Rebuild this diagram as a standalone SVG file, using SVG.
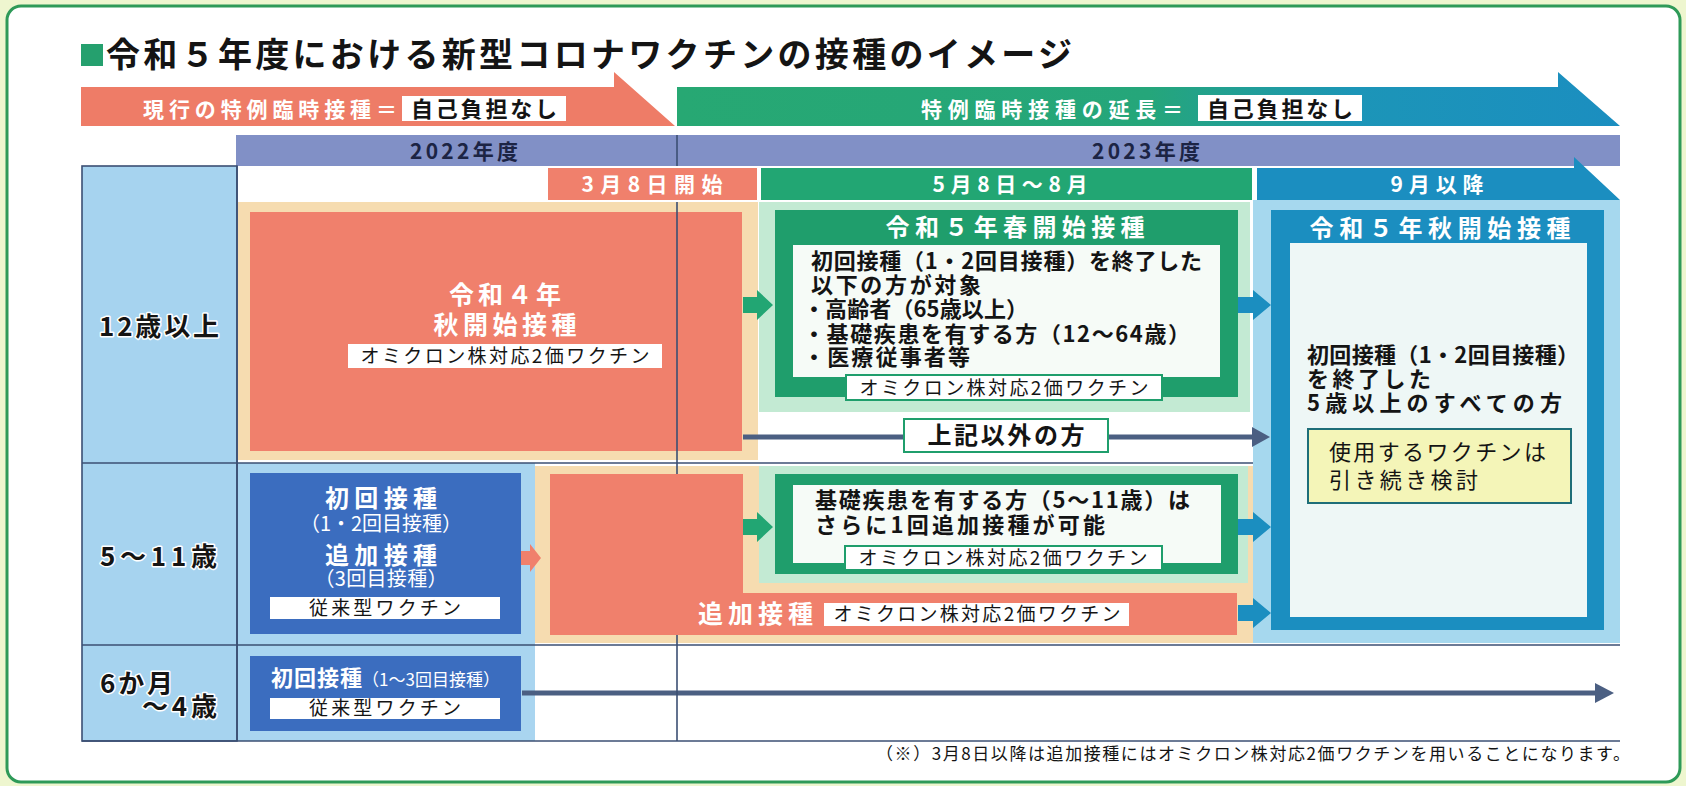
<svg xmlns="http://www.w3.org/2000/svg" width="1686" height="786" viewBox="0 0 1686 786">
<style>
text{font-family:"Noto Sans CJK JP","Noto Sans CJK SC",sans-serif;}
.b{font-weight:700}
.w{fill:#ffffff}
.k{fill:#141414}
.c{text-anchor:middle}
.e{text-anchor:end}
.grid{stroke:#3b4f73;stroke-width:1.6;fill:none}
.red{fill:#f0806c}
.beige{fill:#f6dcb0}
.mint{fill:#c3ead3}
.grn{fill:#1f9e6c}
.blu{fill:#1b8ec0}
.lblu{fill:#a6d8ee}
.dblu{fill:#3b6dbf}
.lab{fill:#ffffff}
.labg{fill:#ffffff;stroke:#1f9e6c;stroke-width:2}
.slate{stroke:#4b5f82;stroke-width:5;fill:none}
.slh{fill:#4b5f82}
.halo{stroke:#ffffff;stroke-width:3;paint-order:stroke;stroke-linejoin:round}
</style>
<defs>
<linearGradient id="bg" x1="677" y1="0" x2="1620" y2="0" gradientUnits="userSpaceOnUse">
<stop offset="0" stop-color="#27a873"/>
<stop offset="0.5" stop-color="#25a67a"/>
<stop offset="0.72" stop-color="#1c95b8"/>
<stop offset="1" stop-color="#1b8ec0"/>
</linearGradient>
</defs>

<rect x="0" y="0" width="1686" height="786" fill="#eef6cf"/>
<rect x="7" y="6" width="1673" height="776" rx="14" fill="#ffffff" stroke="#2e9a58" stroke-width="3"/>

<g id="title">
<rect x="81" y="44" width="22" height="22" fill="#25a06e"/>
<text x="106" y="67" font-size="34" class="b k" textLength="966" lengthAdjust="spacing">令和５年度における新型コロナワクチンの接種のイメージ</text>
</g>

<g id="banner-current">
<polygon points="81,87 614,87 614,72 675,126 81,126" fill="#ee7c67"/>
<text x="143" y="117" font-size="21" class="b w" textLength="254" lengthAdjust="spacing">現行の特例臨時接種＝</text>
<rect x="402" y="96" width="164" height="25" fill="#ffffff"/>
<text x="484" y="117" font-size="22" class="b k c" textLength="146" lengthAdjust="spacing">自己負担なし</text>
</g>

<g id="banner-extension">
<polygon points="677,87 1558,87 1558,72 1620,126 677,126" fill="url(#bg)"/>
<text x="921" y="117" font-size="21" class="b w" textLength="262" lengthAdjust="spacing">特例臨時接種の延長＝</text>
<rect x="1198" y="95" width="164" height="26" fill="#ffffff"/>
<text x="1280" y="117" font-size="22" class="b k c" textLength="146" lengthAdjust="spacing">自己負担なし</text>
</g>

<g id="year-bar">
<rect x="236" y="135" width="1384" height="31" fill="#8190c6"/>
<text x="464" y="159" font-size="21" class="b c" fill="#1c2444" textLength="108" lengthAdjust="spacing">2022年度</text>
<text x="1146" y="159" font-size="21" class="b c" fill="#1c2444" textLength="108" lengthAdjust="spacing">2023年度</text>
</g>

<g id="header-mar">
<rect x="548" y="168" width="209" height="32" class="red"/>
<text x="652" y="192" font-size="21" class="b w c" textLength="141" lengthAdjust="spacing">3月8日開始</text>
</g>
<g id="header-may">
<rect x="761" y="168" width="491" height="32" fill="#22a673"/>
<text x="1010" y="192" font-size="21" class="b w c" textLength="155" lengthAdjust="spacing">5月8日〜8月</text>
</g>
<g id="header-sep">
<polygon points="1257,168 1574,168 1574,157 1620,200 1257,200" class="blu"/>
<text x="1437" y="192" font-size="21" class="b w c" textLength="93" lengthAdjust="spacing">9月以降</text>
</g>

<g id="regions">
<rect x="82" y="166" width="155" height="575" fill="#a6d3ef"/>
<rect x="237" y="463" width="298" height="278" fill="#a9d5f0"/>
<rect x="238" y="202" width="520" height="258" class="beige"/>
<rect x="535" y="466" width="718" height="177" class="beige"/>
<rect x="759" y="202" width="491" height="210" class="mint"/>
<rect x="759" y="466" width="489" height="117" class="mint"/>
<rect x="1253" y="200" width="367" height="443" class="lblu"/>
</g>

<g id="grid">
<rect x="82" y="166" width="155" height="575" class="grid"/>
<line x1="82" y1="463" x2="1253" y2="463" class="grid"/>
<line x1="82" y1="645" x2="1620" y2="645" class="grid"/>
<line x1="82" y1="741" x2="1620" y2="741" class="grid"/>
<line x1="237" y1="166" x2="237" y2="741" class="grid"/>
</g>

<g id="label-12">
<text x="99" y="336" font-size="26" class="b k halo" textLength="120" lengthAdjust="spacing">12歳以上</text>
</g>
<g id="label-5-11">
<text x="100" y="566" font-size="26" class="b k halo" textLength="117" lengthAdjust="spacing">5〜11歳</text>
</g>
<g id="label-6m-4">
<text x="100" y="693" font-size="26" class="b k halo" textLength="73" lengthAdjust="spacing">6か月</text>
<text x="217" y="716" font-size="26" class="b k halo e" textLength="75" lengthAdjust="spacing">〜4歳</text>
</g>

<g id="connectors">
<polygon points="743,297 757,297 757,290 773,305 757,320 757,313 743,313" fill="#22a673"/>
<polygon points="1238,297 1253,297 1253,290 1271,305 1253,320 1253,313 1238,313" class="blu"/>
<line x1="743" y1="437" x2="1254" y2="437" class="slate"/>
<polygon points="1252,427 1270,437 1252,447" class="slh"/>
<polygon points="743,519 757,519 757,512 773,527 757,542 757,535 743,535" fill="#22a673"/>
<polygon points="1238,519 1253,519 1253,512 1271,527 1253,542 1253,535 1238,535" class="blu"/>
<polygon points="1238,605 1253,605 1253,598 1271,613 1253,628 1253,621 1238,621" class="blu"/>
<polygon points="521,551 530,551 530,544 541,558 530,572 530,565 521,565" fill="#f0806c"/>
<line x1="522" y1="693" x2="1597" y2="693" class="slate"/>
<polygon points="1595,683 1614,693 1595,703" class="slh"/>
</g>

<g id="r4-autumn">
<rect x="250" y="212" width="492" height="239" class="red"/>
<text x="505" y="304" font-size="25" class="b w c" textLength="112" lengthAdjust="spacing">令和４年</text>
<text x="505" y="334" font-size="25" class="b w c" textLength="143" lengthAdjust="spacing">秋開始接種</text>
<rect x="348" y="344" width="314" height="24" class="lab"/>
<text x="505" y="363" font-size="19" class="k c" textLength="289" lengthAdjust="spacing">オミクロン株対応2価ワクチン</text>
</g>

<g id="r5-spring">
<rect x="775" y="210" width="463" height="187" class="grn"/>
<text x="1015" y="236" font-size="24" class="b w c" textLength="259" lengthAdjust="spacing">令和５年春開始接種</text>
<rect x="793" y="245" width="427" height="132" fill="#f6fbf7"/>
<text x="811" y="269" font-size="22" class="b k" textLength="391" lengthAdjust="spacing">初回接種（1・2回目接種）を終了した</text>
<text x="811" y="293" font-size="22" class="b k" textLength="170" lengthAdjust="spacing">以下の方が対象</text>
<text x="803" y="317" font-size="22" class="b k" textLength="225" lengthAdjust="spacing">・高齢者（65歳以上）</text>
<text x="803" y="342" font-size="22" class="b k" textLength="387" lengthAdjust="spacing">・基礎疾患を有する方（12〜64歳）</text>
<text x="803" y="365" font-size="22" class="b k" textLength="167" lengthAdjust="spacing">・医療従事者等</text>
<rect x="846" y="375" width="316" height="25" class="labg"/>
<text x="1004" y="395" font-size="19" class="k c" textLength="289" lengthAdjust="spacing">オミクロン株対応2価ワクチン</text>
</g>

<g id="others">
<rect x="904" y="419" width="204" height="33" class="labg" stroke-width="2.5"/>
<text x="1006" y="444" font-size="24" class="b k c" textLength="157" lengthAdjust="spacing">上記以外の方</text>
</g>

<g id="r5-autumn">
<rect x="1271" y="210" width="333" height="420" class="blu"/>
<text x="1440" y="237" font-size="24" class="b w c" textLength="261" lengthAdjust="spacing">令和５年秋開始接種</text>
<rect x="1290" y="243" width="297" height="374" fill="#eef7f6"/>
<text x="1307" y="363" font-size="22" class="b k" textLength="272" lengthAdjust="spacing">初回接種（1・2回目接種）</text>
<text x="1307" y="387" font-size="22" class="b k" textLength="124" lengthAdjust="spacing">を終了した</text>
<text x="1307" y="411" font-size="22" class="b k" textLength="255" lengthAdjust="spacing">5歳以上のすべての方</text>
<rect x="1308" y="429" width="263" height="74" fill="#f4f5b8" stroke="#1e6e78" stroke-width="2"/>
<text x="1329" y="460" font-size="22" class="k" textLength="217" lengthAdjust="spacing">使用するワクチンは</text>
<text x="1329" y="488" font-size="22" class="k" textLength="149" lengthAdjust="spacing">引き続き検討</text>
</g>

<g id="child-primary">
<rect x="250" y="473" width="271" height="161" class="dblu"/>
<text x="381" y="507" font-size="24" class="b w c" textLength="112" lengthAdjust="spacing">初回接種</text>
<text x="381" y="531" font-size="20" class="w c" textLength="162" lengthAdjust="spacing">（1・2回目接種）</text>
<text x="381" y="564" font-size="24" class="b w c" textLength="112" lengthAdjust="spacing">追加接種</text>
<text x="381" y="586" font-size="20" class="w c" textLength="133" lengthAdjust="spacing">（3回目接種）</text>
<rect x="270" y="597" width="230" height="22" class="lab"/>
<text x="385" y="615" font-size="19" class="k c" textLength="152" lengthAdjust="spacing">従来型ワクチン</text>
</g>

<g id="child-booster">
<path d="M550,474 H743 V593 H1237 V635 H550 Z" class="red"/>
<text x="698" y="623" font-size="25" class="b w" textLength="115" lengthAdjust="spacing">追加接種</text>
<rect x="824" y="603" width="305" height="23" class="lab"/>
<text x="977" y="621" font-size="19" class="k c" textLength="287" lengthAdjust="spacing">オミクロン株対応2価ワクチン</text>
</g>

<g id="child-risk">
<rect x="775" y="474" width="463" height="100" class="grn"/>
<rect x="793" y="485" width="428" height="78" fill="#f6fbf7"/>
<text x="815" y="508" font-size="22" class="b k" textLength="375" lengthAdjust="spacing">基礎疾患を有する方（5〜11歳）は</text>
<text x="815" y="533" font-size="22" class="b k" textLength="290" lengthAdjust="spacing">さらに1回追加接種が可能</text>
<rect x="845" y="546" width="317" height="24" class="labg"/>
<text x="1003" y="565" font-size="19" class="k c" textLength="289" lengthAdjust="spacing">オミクロン株対応2価ワクチン</text>
</g>

<g id="infant">
<rect x="250" y="656" width="271" height="75" class="dblu"/>
<text x="271" y="686" font-size="22" class="b w" textLength="91" lengthAdjust="spacing">初回接種</text>
<text x="362" y="686" font-size="17" class="w" textLength="138" lengthAdjust="spacing">（1〜3回目接種）</text>
<rect x="270" y="698" width="230" height="21" class="lab"/>
<text x="385" y="715" font-size="19" class="k c" textLength="152" lengthAdjust="spacing">従来型ワクチン</text>
</g>

<g id="divider">
<line x1="677" y1="135" x2="677" y2="166" class="grid"/>
<line x1="677" y1="202" x2="677" y2="474" class="grid"/>
<line x1="677" y1="635" x2="677" y2="741" class="grid"/>
</g>

<g id="footnote">
<text x="876" y="760" font-size="17" class="k" textLength="754" lengthAdjust="spacing">（※）3月8日以降は追加接種にはオミクロン株対応2価ワクチンを用いることになります。</text>
</g>
</svg>
